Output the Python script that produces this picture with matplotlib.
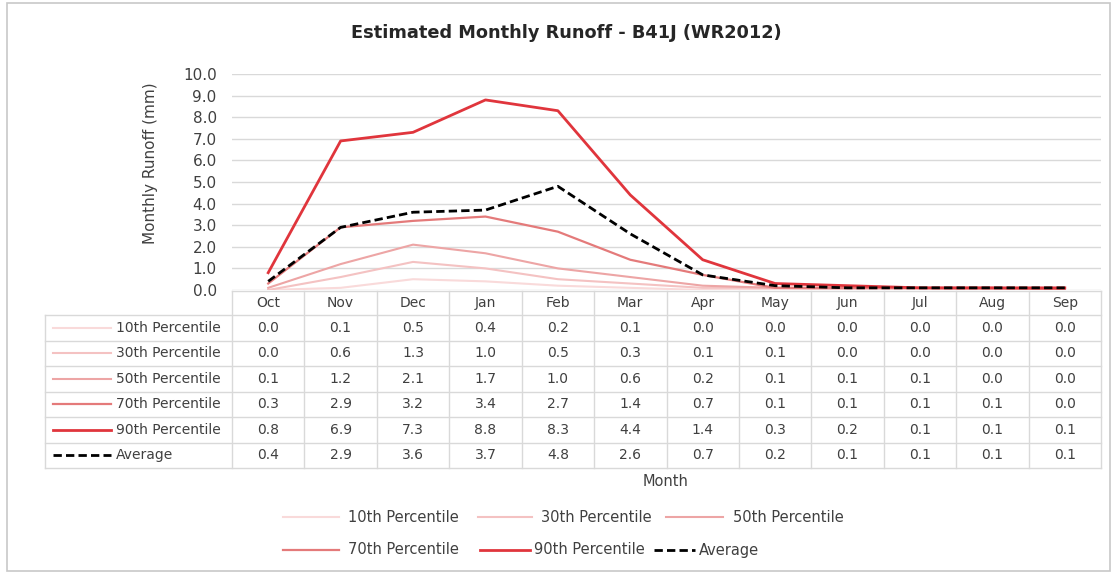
import matplotlib.pyplot as plt
from matplotlib.patches import Rectangle

months = ["Oct", "Nov", "Dec", "Jan", "Feb", "Mar", "Apr", "May", "Jun", "Jul", "Aug", "Sep"]
series_names = ["10th Percentile", "30th Percentile", "50th Percentile",
                "70th Percentile", "90th Percentile", "Average"]
p10 = [0.0, 0.1, 0.5, 0.4, 0.2, 0.1, 0.0, 0.0, 0.0, 0.0, 0.0, 0.0]
p30 = [0.0, 0.6, 1.3, 1.0, 0.5, 0.3, 0.1, 0.1, 0.0, 0.0, 0.0, 0.0]
p50 = [0.1, 1.2, 2.1, 1.7, 1.0, 0.6, 0.2, 0.1, 0.1, 0.1, 0.0, 0.0]
p70 = [0.3, 2.9, 3.2, 3.4, 2.7, 1.4, 0.7, 0.1, 0.1, 0.1, 0.1, 0.0]
p90 = [0.8, 6.9, 7.3, 8.8, 8.3, 4.4, 1.4, 0.3, 0.2, 0.1, 0.1, 0.1]
average = [0.4, 2.9, 3.6, 3.7, 4.8, 2.6, 0.7, 0.2, 0.1, 0.1, 0.1, 0.1]
series = [p10, p30, p50, p70, p90, average]

colors = ["#f9dada", "#f4c2c2", "#eda5a5", "#e47a7a", "#e0353c", "black"]
widths = [1.5, 1.5, 1.5, 1.6, 2.0, 2.0]
styles = ["-", "-", "-", "-", "-", "--"]


def dash(ls):
    return (3, 1.5) if ls == "--" else (None, None)


W, H = 1117, 573
fig = plt.figure(figsize=(W / 100, H / 100), dpi=100)

# pixel helper axes covering the whole figure
bg = fig.add_axes([0, 0, 1, 1])
bg.set_xlim(0, W)
bg.set_ylim(H, 0)
bg.axis("off")
bg.add_patch(Rectangle((7, 3), 1103, 568, fill=False, ec="#c8c8c8", lw=1.2))

tab_left, tab_right = 232, 1101
lab_left = 45
col_w = (tab_right - tab_left) / len(months)
row_edges = [291, 315, 340.5, 366, 391.5, 417, 442.5, 468]
grid_c = "#d9d9d9"
txt_c = "#404040"

# plot area
ax = fig.add_axes([tab_left / W, 1 - 290 / H, (tab_right - tab_left) / W, 216 / H])
x = range(len(months))
for vals, c, lw, ls in zip(series, colors, widths, styles):
    ax.plot(x, vals, color=c, lw=lw, ls=ls, dashes=dash(ls))
ax.set_xlim(-0.5, len(months) - 0.5)
ax.set_ylim(0, 10)
ax.set_yticks(range(0, 11))
ax.set_yticklabels([f"{v:.1f}" for v in range(0, 11)], fontsize=11, color=txt_c)
ax.set_xticks([])
ax.tick_params(axis="y", length=0, pad=11)
ax.grid(axis="y", color=grid_c, lw=1)
ax.set_axisbelow(True)
for s in ax.spines.values():
    s.set_visible(False)
ax.patch.set_alpha(0)

# data table
for r, y in enumerate(row_edges):
    x0 = tab_left if r == 0 else lab_left
    bg.plot([x0, tab_right], [y, y], color=grid_c, lw=1)
for i in range(len(months) + 1):
    xc = tab_left + i * col_w
    bg.plot([xc, xc], [row_edges[0], row_edges[-1]], color=grid_c, lw=1)
bg.plot([lab_left, lab_left], [row_edges[1], row_edges[-1]], color=grid_c, lw=1)

for i, m in enumerate(months):
    xc = tab_left + (i + 0.5) * col_w
    bg.text(xc, (row_edges[0] + row_edges[1]) / 2, m, ha="center", va="center",
            fontsize=10, color=txt_c)
for r, (name, vals, c, lw, ls) in enumerate(zip(series_names, series, colors, widths, styles)):
    yc = (row_edges[r + 1] + row_edges[r + 2]) / 2
    bg.plot([53, 111], [yc, yc], color=c, lw=lw, ls=ls, dashes=dash(ls))
    bg.text(116, yc, name, ha="left", va="center", fontsize=10, color=txt_c)
    for i, v in enumerate(vals):
        xc = tab_left + (i + 0.5) * col_w
        bg.text(xc, yc, f"{v:.1f}", ha="center", va="center", fontsize=10, color=txt_c)

# titles
bg.text(566, 33, "Estimated Monthly Runoff - B41J (WR2012)", ha="center", va="center",
        fontsize=12.8, fontweight="bold", color="#262626")
bg.text(150, 163, "Monthly Runoff (mm)", ha="center", va="center", rotation=90,
        fontsize=11, color=txt_c)
bg.text(666, 482, "Month", ha="center", va="center", fontsize=10.5, color=txt_c)

# legend
legend_pos = [(283, 339, 348, 517), (478, 532, 541, 517), (666, 723, 733, 517),
              (283, 339, 348, 550), (480, 530, 534, 550), (654, 695, 699, 550)]
for (lx0, lx1, tx, ly), name, c, lw, ls in zip(legend_pos, series_names, colors, widths, styles):
    bg.plot([lx0, lx1], [ly, ly], color=c, lw=lw, ls=ls, dashes=dash(ls))
    bg.text(tx, ly, name, ha="left", va="center", fontsize=10.5, color=txt_c)

fig.savefig("out.png", dpi=100)
